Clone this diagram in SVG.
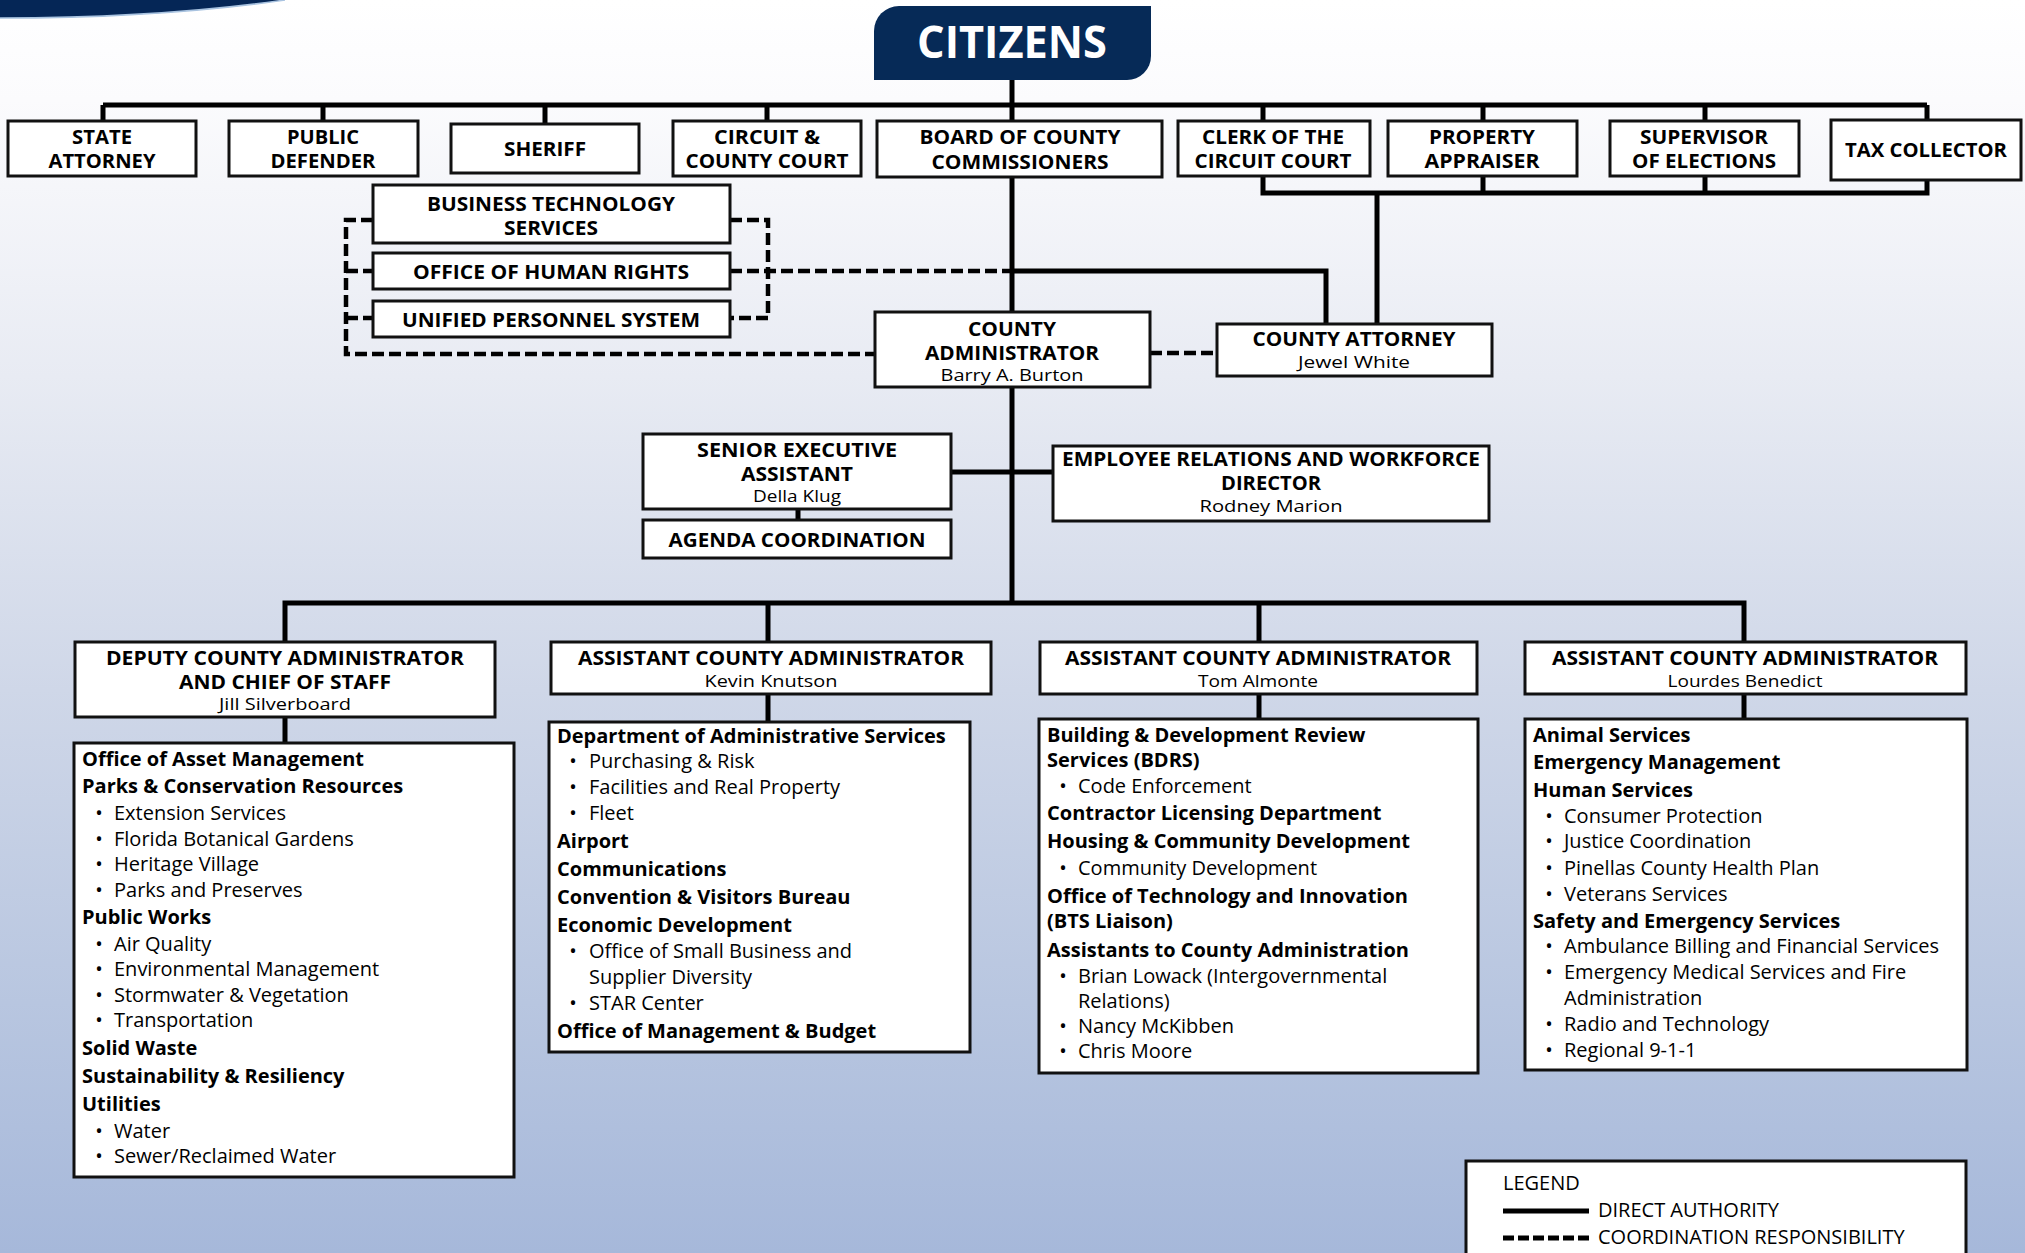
<svg xmlns="http://www.w3.org/2000/svg" width="2025" height="1253" viewBox="0 0 2025 1253">
<defs>
<linearGradient id="bg" x1="0" y1="0" x2="0" y2="1">
<stop offset="0" stop-color="#ffffff"/>
<stop offset="0.08" stop-color="#fbfbfd"/>
<stop offset="0.3" stop-color="#e8ebf3"/>
<stop offset="0.55" stop-color="#cfd7e8"/>
<stop offset="0.8" stop-color="#b8c6e0"/>
<stop offset="1" stop-color="#a6b8da"/>
</linearGradient>
<style>
.box{fill:#fff;stroke:#111;stroke-width:3}
.hd{font-family:"Open Sans",sans-serif;font-weight:700;font-size:20px;fill:#000;text-anchor:middle}
.nm{font-family:"Open Sans",sans-serif;font-weight:400;font-size:17px;fill:#000;text-anchor:middle}
.b{font-family:"Open Sans",sans-serif;font-weight:700;font-size:20px;fill:#000}
.r{font-family:"Open Sans",sans-serif;font-weight:400;font-size:20px;fill:#000}
.bu{font-family:"Open Sans",sans-serif;font-weight:400;font-size:20px;fill:#000;text-anchor:middle}
.solid{stroke:#000;stroke-width:5;fill:none}
.dash{stroke:#000;stroke-width:4.5;fill:none;stroke-dasharray:12 5}
</style>
</defs>
<rect x="0" y="0" width="2025" height="1253" fill="url(#bg)"/>
<path d="M0,0 H285 Q160,18 0,18 Z" fill="#052656"/>
<path d="M285,0 Q160,18 0,18" fill="none" stroke="#a9c3e0" stroke-width="1.5"/>

<g id="connectors">
<path class="solid" d="M1012,80 V603"/>
<path class="solid" d="M103,105 H1927"/>
<path class="solid" d="M103,105 V121 M323,105 V121 M545,105 V124 M767,105 V121 M1263,105 V121 M1483,105 V121 M1705,105 V121 M1927,105 V120"/>
<path class="solid" d="M1263,176 V193 H1927 V180 M1483,176 V193 M1705,176 V193"/>
<path class="solid" d="M1377,193 V324"/>
<path class="solid" d="M1012,271 H1326 V324"/>
<path class="dash" d="M730,271 H1010"/>
<path class="dash" d="M373,220 H346 V354 H875"/>
<path class="dash" d="M346,271 H373 M346,318 H373"/>
<path class="dash" d="M730,220 H768 V318 H730"/>
<path class="dash" d="M1150,353 H1217"/>
<path class="solid" d="M951,472 H1053"/>
<path class="solid" d="M798,509 V520"/>
<path class="solid" d="M285,642 V603 H1744 V642 M768,603 V642 M1259,603 V642"/>
<path class="solid" d="M285,717 V743 M768,694 V722 M1259,694 V719 M1744,694 V719"/>
</g>

<g id="citizens">
<path d="M874,31 A25,25 0 0 1 899,6 H1151 V56 A24,24 0 0 1 1127,80 H874 Z" fill="#062a57"/>
<text x="1012" y="58" font-family="Open Sans, sans-serif" font-weight="700" font-size="44" fill="#fff" text-anchor="middle" textLength="190" lengthAdjust="spacingAndGlyphs">CITIZENS</text>
</g>

<g id="state-attorney">
<rect class="box" x="8" y="121" width="188" height="55"/>
<text class="hd" x="102" y="144" textLength="60" lengthAdjust="spacingAndGlyphs">STATE</text>
<text class="hd" x="102" y="168" textLength="107" lengthAdjust="spacingAndGlyphs">ATTORNEY</text>
</g>
<g id="public-defender">
<rect class="box" x="229" y="121" width="189" height="55"/>
<text class="hd" x="323" y="144" textLength="72" lengthAdjust="spacingAndGlyphs">PUBLIC</text>
<text class="hd" x="323" y="168" textLength="105" lengthAdjust="spacingAndGlyphs">DEFENDER</text>
</g>
<g id="sheriff">
<rect class="box" x="451" y="124" width="188" height="49"/>
<text class="hd" x="545" y="156" textLength="82" lengthAdjust="spacingAndGlyphs">SHERIFF</text>
</g>
<g id="circuit-court">
<rect class="box" x="673" y="121" width="188" height="55"/>
<text class="hd" x="767" y="144" textLength="106" lengthAdjust="spacingAndGlyphs">CIRCUIT &amp;</text>
<text class="hd" x="767" y="168" textLength="163" lengthAdjust="spacingAndGlyphs">COUNTY COURT</text>
</g>
<g id="board">
<rect class="box" x="877" y="121" width="285" height="56"/>
<text class="hd" x="1020" y="144" textLength="201" lengthAdjust="spacingAndGlyphs">BOARD OF COUNTY</text>
<text class="hd" x="1020" y="169" textLength="177" lengthAdjust="spacingAndGlyphs">COMMISSIONERS</text>
</g>
<g id="clerk">
<rect class="box" x="1178" y="121" width="192" height="55"/>
<text class="hd" x="1273" y="144" textLength="142" lengthAdjust="spacingAndGlyphs">CLERK OF THE</text>
<text class="hd" x="1273" y="168" textLength="157" lengthAdjust="spacingAndGlyphs">CIRCUIT COURT</text>
</g>
<g id="property-appraiser">
<rect class="box" x="1388" y="121" width="189" height="55"/>
<text class="hd" x="1482" y="144" textLength="106" lengthAdjust="spacingAndGlyphs">PROPERTY</text>
<text class="hd" x="1482" y="168" textLength="115" lengthAdjust="spacingAndGlyphs">APPRAISER</text>
</g>
<g id="supervisor-elections">
<rect class="box" x="1610" y="121" width="189" height="55"/>
<text class="hd" x="1704" y="144" textLength="128" lengthAdjust="spacingAndGlyphs">SUPERVISOR</text>
<text class="hd" x="1704" y="168" textLength="144" lengthAdjust="spacingAndGlyphs">OF ELECTIONS</text>
</g>
<g id="tax-collector">
<rect class="box" x="1831" y="120" width="190" height="60"/>
<text class="hd" x="1926" y="157" textLength="162" lengthAdjust="spacingAndGlyphs">TAX COLLECTOR</text>
</g>

<g id="bts">
<rect class="box" x="373" y="185" width="357" height="58"/>
<text class="hd" x="551" y="211" textLength="248" lengthAdjust="spacingAndGlyphs">BUSINESS TECHNOLOGY</text>
<text class="hd" x="551" y="235" textLength="94" lengthAdjust="spacingAndGlyphs">SERVICES</text>
</g>
<g id="human-rights">
<rect class="box" x="373" y="253" width="357" height="36"/>
<text class="hd" x="551" y="279" textLength="276" lengthAdjust="spacingAndGlyphs">OFFICE OF HUMAN RIGHTS</text>
</g>
<g id="personnel">
<rect class="box" x="373" y="301" width="357" height="36"/>
<text class="hd" x="551" y="327" textLength="298" lengthAdjust="spacingAndGlyphs">UNIFIED PERSONNEL SYSTEM</text>
</g>
<g id="county-administrator">
<rect class="box" x="875" y="312" width="275" height="75"/>
<text class="hd" x="1012" y="336" textLength="88" lengthAdjust="spacingAndGlyphs">COUNTY</text>
<text class="hd" x="1012" y="360" textLength="174" lengthAdjust="spacingAndGlyphs">ADMINISTRATOR</text>
<text class="nm" x="1012" y="381" textLength="143" lengthAdjust="spacingAndGlyphs">Barry A. Burton</text>
</g>
<g id="county-attorney">
<rect class="box" x="1217" y="324" width="275" height="52"/>
<text class="hd" x="1354" y="346" textLength="203" lengthAdjust="spacingAndGlyphs">COUNTY ATTORNEY</text>
<text class="nm" x="1354" y="368" textLength="112" lengthAdjust="spacingAndGlyphs">Jewel White</text>
</g>
<g id="senior-executive-assistant">
<rect class="box" x="643" y="434" width="308" height="75"/>
<text class="hd" x="797" y="457" textLength="200" lengthAdjust="spacingAndGlyphs">SENIOR EXECUTIVE</text>
<text class="hd" x="797" y="481" textLength="112" lengthAdjust="spacingAndGlyphs">ASSISTANT</text>
<text class="nm" x="797" y="502" textLength="88" lengthAdjust="spacingAndGlyphs">Della Klug</text>
</g>
<g id="agenda-coordination">
<rect class="box" x="643" y="520" width="308" height="38"/>
<text class="hd" x="797" y="547" textLength="257" lengthAdjust="spacingAndGlyphs">AGENDA COORDINATION</text>
</g>
<g id="employee-relations">
<rect class="box" x="1053" y="446" width="436" height="75"/>
<text class="hd" x="1271" y="466" textLength="418" lengthAdjust="spacingAndGlyphs">EMPLOYEE RELATIONS AND WORKFORCE</text>
<text class="hd" x="1271" y="490" textLength="100" lengthAdjust="spacingAndGlyphs">DIRECTOR</text>
<text class="nm" x="1271" y="512" textLength="143" lengthAdjust="spacingAndGlyphs">Rodney Marion</text>
</g>

<g id="deputy">
<rect class="box" x="75" y="642" width="420" height="75"/>
<text class="hd" x="285" y="665" textLength="358" lengthAdjust="spacingAndGlyphs">DEPUTY COUNTY ADMINISTRATOR</text>
<text class="hd" x="285" y="689" textLength="212" lengthAdjust="spacingAndGlyphs">AND CHIEF OF STAFF</text>
<text class="nm" x="285" y="710" textLength="132" lengthAdjust="spacingAndGlyphs">Jill Silverboard</text>
</g>
<g id="aca-knutson">
<rect class="box" x="551" y="642" width="440" height="52"/>
<text class="hd" x="771" y="665" textLength="386" lengthAdjust="spacingAndGlyphs">ASSISTANT COUNTY ADMINISTRATOR</text>
<text class="nm" x="771" y="687" textLength="133" lengthAdjust="spacingAndGlyphs">Kevin Knutson</text>
</g>
<g id="aca-almonte">
<rect class="box" x="1040" y="642" width="437" height="52"/>
<text class="hd" x="1258" y="665" textLength="386" lengthAdjust="spacingAndGlyphs">ASSISTANT COUNTY ADMINISTRATOR</text>
<text class="nm" x="1258" y="687" textLength="120" lengthAdjust="spacingAndGlyphs">Tom Almonte</text>
</g>
<g id="aca-benedict">
<rect class="box" x="1525" y="642" width="441" height="52"/>
<text class="hd" x="1745" y="665" textLength="386" lengthAdjust="spacingAndGlyphs">ASSISTANT COUNTY ADMINISTRATOR</text>
<text class="nm" x="1745" y="687" textLength="155" lengthAdjust="spacingAndGlyphs">Lourdes Benedict</text>
</g>

<g id="depts-silverboard">
<rect class="box" x="74" y="743" width="440" height="434"/>
<text class="b" x="82" y="766">Office of Asset Management</text>
<text class="b" x="82" y="793">Parks &amp; Conservation Resources</text>
<text class="bu" x="99" y="820">•</text><text class="r" x="114" y="820">Extension Services</text>
<text class="bu" x="99" y="846">•</text><text class="r" x="114" y="846">Florida Botanical Gardens</text>
<text class="bu" x="99" y="871">•</text><text class="r" x="114" y="871">Heritage Village</text>
<text class="bu" x="99" y="897">•</text><text class="r" x="114" y="897">Parks and Preserves</text>
<text class="b" x="82" y="924">Public Works</text>
<text class="bu" x="99" y="951">•</text><text class="r" x="114" y="951">Air Quality</text>
<text class="bu" x="99" y="976">•</text><text class="r" x="114" y="976">Environmental Management</text>
<text class="bu" x="99" y="1002">•</text><text class="r" x="114" y="1002">Stormwater &amp; Vegetation</text>
<text class="bu" x="99" y="1027">•</text><text class="r" x="114" y="1027">Transportation</text>
<text class="b" x="82" y="1055">Solid Waste</text>
<text class="b" x="82" y="1083">Sustainability &amp; Resiliency</text>
<text class="b" x="82" y="1111">Utilities</text>
<text class="bu" x="99" y="1138">•</text><text class="r" x="114" y="1138">Water</text>
<text class="bu" x="99" y="1163">•</text><text class="r" x="114" y="1163">Sewer/Reclaimed Water</text>
</g>

<g id="depts-knutson">
<rect class="box" x="549" y="722" width="421" height="330"/>
<text class="b" x="557" y="743">Department of Administrative Services</text>
<text class="bu" x="573" y="768">•</text><text class="r" x="589" y="768">Purchasing &amp; Risk</text>
<text class="bu" x="573" y="794">•</text><text class="r" x="589" y="794">Facilities and Real Property</text>
<text class="bu" x="573" y="820">•</text><text class="r" x="589" y="820">Fleet</text>
<text class="b" x="557" y="848">Airport</text>
<text class="b" x="557" y="876">Communications</text>
<text class="b" x="557" y="904">Convention &amp; Visitors Bureau</text>
<text class="b" x="557" y="932">Economic Development</text>
<text class="bu" x="573" y="958">•</text><text class="r" x="589" y="958">Office of Small Business and</text>
<text class="r" x="589" y="984">Supplier Diversity</text>
<text class="bu" x="573" y="1010">•</text><text class="r" x="589" y="1010">STAR Center</text>
<text class="b" x="557" y="1038">Office of Management &amp; Budget</text>
</g>

<g id="depts-almonte">
<rect class="box" x="1039" y="719" width="439" height="354"/>
<text class="b" x="1047" y="742">Building &amp; Development Review</text>
<text class="b" x="1047" y="767">Services (BDRS)</text>
<text class="bu" x="1063" y="793">•</text><text class="r" x="1078" y="793">Code Enforcement</text>
<text class="b" x="1047" y="820">Contractor Licensing Department</text>
<text class="b" x="1047" y="848">Housing &amp; Community Development</text>
<text class="bu" x="1063" y="875">•</text><text class="r" x="1078" y="875">Community Development</text>
<text class="b" x="1047" y="903">Office of Technology and Innovation</text>
<text class="b" x="1047" y="928">(BTS Liaison)</text>
<text class="b" x="1047" y="957">Assistants to County Administration</text>
<text class="bu" x="1063" y="983">•</text><text class="r" x="1078" y="983">Brian Lowack (Intergovernmental</text>
<text class="r" x="1078" y="1008">Relations)</text>
<text class="bu" x="1063" y="1033">•</text><text class="r" x="1078" y="1033">Nancy McKibben</text>
<text class="bu" x="1063" y="1058">•</text><text class="r" x="1078" y="1058">Chris Moore</text>
</g>

<g id="depts-benedict">
<rect class="box" x="1525" y="719" width="442" height="351"/>
<text class="b" x="1533" y="742">Animal Services</text>
<text class="b" x="1533" y="769">Emergency Management</text>
<text class="b" x="1533" y="797">Human Services</text>
<text class="bu" x="1549" y="823">•</text><text class="r" x="1564" y="823">Consumer Protection</text>
<text class="bu" x="1549" y="848">•</text><text class="r" x="1564" y="848">Justice Coordination</text>
<text class="bu" x="1549" y="875">•</text><text class="r" x="1564" y="875">Pinellas County Health Plan</text>
<text class="bu" x="1549" y="901">•</text><text class="r" x="1564" y="901">Veterans Services</text>
<text class="b" x="1533" y="928">Safety and Emergency Services</text>
<text class="bu" x="1549" y="953">•</text><text class="r" x="1564" y="953">Ambulance Billing and Financial Services</text>
<text class="bu" x="1549" y="979">•</text><text class="r" x="1564" y="979">Emergency Medical Services and Fire</text>
<text class="r" x="1564" y="1005">Administration</text>
<text class="bu" x="1549" y="1031">•</text><text class="r" x="1564" y="1031">Radio and Technology</text>
<text class="bu" x="1549" y="1057">•</text><text class="r" x="1564" y="1057">Regional 9-1-1</text>
</g>

<g id="legend">
<rect class="box" x="1466" y="1161" width="500" height="110"/>
<text class="r" x="1503" y="1190">LEGEND</text>
<path d="M1503,1211 H1589" stroke="#000" stroke-width="5" fill="none"/>
<text class="r" x="1598" y="1217">DIRECT AUTHORITY</text>
<path d="M1503,1238 H1589" stroke="#000" stroke-width="5" fill="none" stroke-dasharray="11 4"/>
<text class="r" x="1598" y="1244">COORDINATION RESPONSIBILITY</text>
</g>
</svg>
